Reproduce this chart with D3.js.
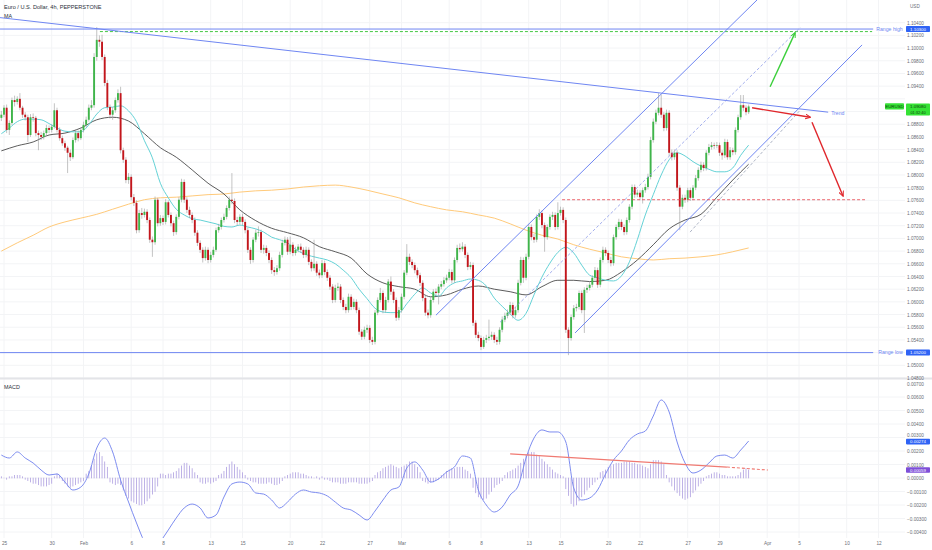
<!DOCTYPE html>
<html>
<head>
<meta charset="utf-8">
<script src="https://cdn.jsdelivr.net/npm/d3@7"></script>
<style>
  body { margin: 0; background: #fff; }
  svg { display: block; }
  text { font-family: "Liberation Sans", Arial, sans-serif; }
</style>
</head>
<body>
<div id="chart"></div>
<script>
// ---- data: EURUSD 4h candles, one per bar (bar 0 = last bar of Jan 24) ----
const firstOpen = 1.0890;
const closes = [
1.0895,1.0906,1.0871,1.0882,1.0918,1.0915,1.0920,1.0906,1.0895,1.0891,
1.0863,1.0891,1.0890,1.0866,1.0863,1.0860,1.0866,1.0874,1.0871,1.0876,
1.0902,1.0871,1.0858,1.0850,1.0843,1.0835,1.0828,1.0855,1.0866,1.0858,
1.0871,1.0879,1.0887,1.0906,1.0910,1.0986,1.1013,1.1010,1.0986,1.0945,
1.0907,1.0895,1.0902,1.0918,1.0929,1.0839,1.0824,1.0792,1.0797,1.0765,
1.0756,1.0713,1.0740,1.0737,1.0742,1.0729,1.0698,1.0694,1.0761,1.0724,
1.0732,1.0726,1.0757,1.0737,1.0724,1.0710,1.0734,1.0761,1.0789,1.0761,
1.0745,1.0737,1.0729,1.0709,1.0693,1.0682,1.0669,1.0682,1.0666,1.0674,
1.0682,1.0713,1.0718,1.0729,1.0734,1.0748,1.0761,1.0759,1.0729,1.0726,
1.0734,1.0726,1.0713,1.0682,1.0666,1.0698,1.0709,1.0710,1.0682,1.0685,
1.0677,1.0666,1.0650,1.0647,1.0653,1.0674,1.0693,1.0698,1.0679,1.0690,
1.0677,1.0682,1.0687,1.0682,1.0674,1.0682,1.0663,1.0653,1.0660,1.0646,
1.0642,1.0661,1.0647,1.0638,1.0624,1.0603,1.0622,1.0624,1.0603,1.0592,
1.0587,1.0608,1.0592,1.0600,1.0587,1.0553,1.0545,1.0556,1.0559,1.0540,
1.0537,1.0583,1.0603,1.0614,1.0587,1.0603,1.0632,1.0616,1.0603,1.0575,
1.0587,1.0608,1.0646,1.0671,1.0663,1.0658,1.0650,1.0642,1.0630,1.0606,
1.0583,1.0579,1.0603,1.0616,1.0614,1.0624,1.0628,1.0634,1.0638,1.0647,
1.0634,1.0666,1.0685,1.0683,1.0687,1.0674,1.0655,1.0658,1.0567,1.0548,
1.0543,1.0529,1.0540,1.0543,1.0545,1.0548,1.0540,1.0537,1.0556,1.0572,
1.0578,1.0583,1.0595,1.0579,1.0587,1.0630,1.0666,1.0638,1.0671,1.0718,
1.0702,1.0698,1.0734,1.0740,1.0721,1.0702,1.0718,1.0734,1.0737,1.0718,
1.0740,1.0745,1.0729,1.0556,1.0543,1.0576,1.0590,1.0592,1.0614,1.0587,
1.0619,1.0622,1.0627,1.0638,1.0650,1.0627,1.0666,1.0682,1.0677,1.0666,
1.0661,1.0702,1.0718,1.0726,1.0718,1.0710,1.0729,1.0750,1.0781,1.0769,
1.0772,1.0765,1.0776,1.0781,1.0797,1.0855,1.0884,1.0898,1.0906,1.0895,
1.0874,1.0898,1.0835,1.0828,1.0835,1.0780,1.0750,1.0764,1.0761,1.0776,
1.0764,1.0780,1.0795,1.0808,1.0816,1.0811,1.0835,1.0844,1.0847,1.0846,
1.0847,1.0835,1.0831,1.0852,1.0828,1.0839,1.0836,1.0871,1.0891,1.0910,
1.0906,1.0899,1.0908];

const highs = [
1.0901,1.0910,1.0911,1.0886,1.0922,1.0925,1.0924,1.0929,1.0909,1.0899,
1.0895,1.0896,1.0897,1.0893,1.0870,1.0868,1.0870,1.0879,1.0878,1.0880,
1.0913,1.0906,1.0875,1.0862,1.0854,1.0846,1.0840,1.0859,1.0871,1.0870,
1.0875,1.0884,1.0892,1.0911,1.0918,1.0992,1.1033,1.1020,1.1021,1.0990,
1.0950,1.0911,1.0907,1.0922,1.0935,1.0939,1.0843,1.0828,1.0803,1.0801,
1.0770,1.0760,1.0745,1.0748,1.0747,1.0746,1.0733,1.0703,1.0766,1.0764,
1.0737,1.0736,1.0762,1.0760,1.0741,1.0728,1.0738,1.0765,1.0794,1.0793,
1.0765,1.0750,1.0741,1.0733,1.0713,1.0697,1.0686,1.0687,1.0686,1.0679,
1.0687,1.0717,1.0723,1.0733,1.0739,1.0752,1.0766,1.0803,1.0763,1.0734,
1.0738,1.0739,1.0730,1.0717,1.0686,1.0702,1.0714,1.0719,1.0714,1.0690,
1.0689,1.0681,1.0670,1.0655,1.0658,1.0679,1.0698,1.0703,1.0702,1.0703,
1.0694,1.0687,1.0691,1.0692,1.0686,1.0687,1.0686,1.0667,1.0698,1.0664,
1.0651,1.0666,1.0665,1.0651,1.0642,1.0628,1.0627,1.0630,1.0628,1.0607,
1.0597,1.0613,1.0612,1.0605,1.0604,1.0591,1.0557,1.0561,1.0564,1.0563,
1.0545,1.0587,1.0607,1.0622,1.0618,1.0608,1.0636,1.0640,1.0620,1.0607,
1.0592,1.0613,1.0650,1.0691,1.0676,1.0667,1.0662,1.0654,1.0646,1.0634,
1.0610,1.0588,1.0608,1.0620,1.0621,1.0628,1.0633,1.0639,1.0643,1.0652,
1.0651,1.0670,1.0690,1.0692,1.0694,1.0691,1.0678,1.0663,1.0662,1.0571,
1.0553,1.0547,1.0545,1.0548,1.0572,1.0553,1.0552,1.0545,1.0560,1.0577,
1.0583,1.0588,1.0600,1.0599,1.0592,1.0635,1.0671,1.0670,1.0676,1.0723,
1.0722,1.0707,1.0738,1.0746,1.0744,1.0725,1.0722,1.0738,1.0742,1.0741,
1.0757,1.0750,1.0749,1.0733,1.0560,1.0580,1.0595,1.0597,1.0618,1.0618,
1.0623,1.0627,1.0632,1.0642,1.0655,1.0654,1.0670,1.0687,1.0686,1.0681,
1.0671,1.0706,1.0722,1.0731,1.0730,1.0722,1.0733,1.0754,1.0785,1.0785,
1.0777,1.0776,1.0780,1.0786,1.0802,1.0860,1.0889,1.0903,1.0929,1.0927,
1.0899,1.0903,1.0902,1.0840,1.0840,1.0839,1.0784,1.0769,1.0769,1.0780,
1.0780,1.0784,1.0800,1.0812,1.0821,1.0820,1.0839,1.0849,1.0852,1.0851,
1.0852,1.0851,1.0839,1.0857,1.0856,1.0844,1.0843,1.0875,1.0895,1.0926,
1.0926,1.0910,1.0911];

const lows = [
1.0885,1.0891,1.0866,1.0863,1.0879,1.0908,1.0911,1.0902,1.0890,1.0886,
1.0852,1.0860,1.0884,1.0861,1.0839,1.0855,1.0856,1.0862,1.0866,1.0867,
1.0873,1.0867,1.0854,1.0846,1.0838,1.0803,1.0822,1.0825,1.0851,1.0853,
1.0855,1.0867,1.0875,1.0884,1.0902,1.0906,1.0980,1.1002,1.0981,1.0940,
1.0902,1.0889,1.0887,1.0898,1.0914,1.0834,1.0819,1.0787,1.0786,1.0760,
1.0751,1.0708,1.0709,1.0731,1.0733,1.0724,1.0693,1.0671,1.0690,1.0719,
1.0720,1.0721,1.0722,1.0733,1.0719,1.0704,1.0706,1.0730,1.0757,1.0756,
1.0740,1.0732,1.0724,1.0704,1.0688,1.0677,1.0662,1.0665,1.0661,1.0662,
1.0670,1.0679,1.0709,1.0714,1.0725,1.0730,1.0744,1.0754,1.0724,1.0720,
1.0722,1.0721,1.0708,1.0677,1.0660,1.0662,1.0694,1.0703,1.0677,1.0676,
1.0672,1.0661,1.0644,1.0641,1.0643,1.0649,1.0670,1.0689,1.0674,1.0675,
1.0672,1.0673,1.0678,1.0677,1.0669,1.0670,1.0658,1.0648,1.0649,1.0641,
1.0637,1.0638,1.0642,1.0633,1.0619,1.0598,1.0599,1.0617,1.0598,1.0587,
1.0582,1.0583,1.0587,1.0588,1.0582,1.0548,1.0540,1.0541,1.0551,1.0535,
1.0532,1.0533,1.0579,1.0599,1.0582,1.0583,1.0599,1.0611,1.0598,1.0570,
1.0571,1.0583,1.0604,1.0642,1.0658,1.0653,1.0645,1.0637,1.0625,1.0601,
1.0578,1.0574,1.0575,1.0599,1.0609,1.0596,1.0620,1.0624,1.0630,1.0634,
1.0629,1.0630,1.0662,1.0678,1.0679,1.0669,1.0650,1.0651,1.0562,1.0543,
1.0538,1.0524,1.0526,1.0535,1.0539,1.0540,1.0535,1.0532,1.0533,1.0552,
1.0568,1.0574,1.0579,1.0574,1.0575,1.0583,1.0626,1.0630,1.0634,1.0667,
1.0697,1.0693,1.0694,1.0729,1.0716,1.0679,1.0698,1.0714,1.0729,1.0713,
1.0714,1.0736,1.0724,1.0551,1.0516,1.0539,1.0572,1.0585,1.0588,1.0582,
1.0551,1.0614,1.0618,1.0623,1.0634,1.0622,1.0623,1.0662,1.0672,1.0661,
1.0656,1.0657,1.0698,1.0714,1.0713,1.0705,1.0706,1.0725,1.0746,1.0764,
1.0765,1.0760,1.0755,1.0772,1.0777,1.0793,1.0851,1.0880,1.0894,1.0890,
1.0869,1.0870,1.0830,1.0823,1.0824,1.0775,1.0713,1.0746,1.0756,1.0757,
1.0759,1.0760,1.0776,1.0791,1.0804,1.0806,1.0807,1.0831,1.0840,1.0841,
1.0842,1.0830,1.0824,1.0827,1.0824,1.0824,1.0831,1.0832,1.0867,1.0887,
1.0901,1.0894,1.0896];

// moving averages, read every few bars
const maFastStep = 3;
const maFast = [
1.0865,1.0874,1.0884,1.0888,1.0888,1.0887,1.0881,1.0874,1.0869,1.0868,
1.0868,1.0879,1.0896,1.0906,1.0907,1.0909,1.0901,1.0884,1.0854,1.0827,
1.0787,1.0764,1.0746,1.0737,1.0731,1.0729,1.0726,1.0723,1.0719,1.0718,
1.0721,1.0718,1.0715,1.0710,1.0702,1.0698,1.0693,1.0683,1.0676,1.0672,
1.0669,1.0666,1.0660,1.0650,1.0638,1.0620,1.0605,1.0590,1.0584,1.0583,
1.0583,1.0597,1.0612,1.0622,1.0614,1.0609,1.0622,1.0630,1.0633,1.0636,
1.0634,1.0625,1.0606,1.0593,1.0581,1.0571,1.0582,1.0611,1.0639,1.0661,
1.0678,1.0686,1.0677,1.0658,1.0642,1.0638,1.0634,1.0633,1.0641,1.0663,
1.0698,1.0737,1.0769,1.0800,1.0824,1.0835,1.0830,1.0821,1.0814,1.0809,
1.0805,1.0805,1.0811,1.0831,1.0847];
const maMidStep = 6;
const maMid = [
1.0838,1.0846,1.0852,1.0863,1.0866,1.0874,1.0887,1.0891,1.0885,1.0865,
1.0843,1.0828,1.0808,1.0787,1.0770,1.0745,1.0728,1.0716,1.0709,1.0701,
1.0687,1.0679,1.0669,1.0644,1.0630,1.0624,1.0620,1.0608,1.0611,1.0620,
1.0625,1.0620,1.0616,1.0611,1.0624,1.0634,1.0634,1.0632,1.0634,1.0647,
1.0666,1.0690,1.0715,1.0729,1.0738,1.0765,1.0792,1.0817];
const maSlowStep = 6;
const maSlow = [
1.0680,1.0693,1.0705,1.0718,1.0726,1.0732,1.0738,1.0746,1.0754,1.0761,
1.0764,1.0765,1.0767,1.0769,1.0770,1.0773,1.0775,1.0776,1.0778,1.0781,
1.0783,1.0784,1.0781,1.0776,1.0770,1.0764,1.0756,1.0750,1.0745,1.0742,
1.0737,1.0732,1.0723,1.0713,1.0705,1.0699,1.0690,1.0683,1.0677,1.0671,
1.0668,1.0666,1.0668,1.0669,1.0671,1.0674,1.0679,1.0685];

// MACD line (read every 3 bars) and histogram (every bar)
const macdStep = 3;
const macdLine = [
0.00170,0.00148,0.00193,0.00148,0.00111,0.00059,0.00022,0.00030,-0.00030,-0.00089,
-0.00067,0.00030,0.00222,0.00296,0.00193,-0.00015,-0.00178,-0.00333,-0.00474,-0.00570,
-0.00474,-0.00385,-0.00296,-0.00222,-0.00193,-0.00222,-0.00296,-0.00274,-0.00141,-0.00044,
-0.00030,-0.00044,-0.00111,-0.00119,-0.00163,-0.00222,-0.00178,-0.00119,-0.00089,-0.00104,
-0.00111,-0.00133,-0.00178,-0.00222,-0.00237,-0.00274,-0.00311,-0.00245,-0.00163,-0.00089,
-0.00067,0.00074,0.00119,0.00059,-0.00030,-0.00007,0.00044,0.00082,0.00163,0.00148,
-0.00089,-0.00200,-0.00252,-0.00215,-0.00126,-0.00059,0.00148,0.00296,0.00356,0.00341,
0.00341,0.00267,-0.00074,-0.00163,-0.00148,-0.00089,0.00030,0.00133,0.00200,0.00282,
0.00326,0.00348,0.00459,0.00578,0.00489,0.00267,0.00111,0.00037,0.00059,0.00111,
0.00163,0.00170,0.00148,0.00207,0.00274];
const macdHist = [
0.0001,0.0000,-0.0001,0.0001,0.0001,0.0002,0.0002,0.0002,0.0001,-0.0001,
-0.0002,-0.0003,-0.0004,-0.0004,-0.0005,-0.0006,-0.0006,-0.0006,-0.0005,-0.0004,
0.0001,0.0003,0.0002,-0.0002,-0.0004,-0.0006,-0.0007,-0.0006,-0.0005,-0.0004,
-0.0003,-0.0002,0.0003,0.0005,0.0009,0.0014,0.0018,0.0019,0.0016,0.0012,
0.0008,-0.0003,-0.0004,-0.0005,-0.0004,-0.0005,-0.0009,-0.0013,-0.0015,-0.0017,
-0.0018,-0.0019,-0.0020,-0.0020,-0.0019,-0.0017,-0.0015,-0.0012,-0.0010,-0.0006,
0.0003,0.0003,0.0002,0.0003,0.0003,0.0004,0.0005,0.0007,0.0009,0.0011,
0.0011,0.0009,0.0007,0.0004,0.0002,-0.0003,-0.0004,-0.0004,-0.0003,-0.0004,
-0.0003,-0.0002,0.0002,0.0003,0.0005,0.0008,0.0010,0.0012,0.0010,0.0008,
0.0006,0.0004,0.0002,-0.0001,-0.0002,-0.0003,-0.0003,-0.0004,-0.0004,-0.0004,
-0.0004,-0.0003,-0.0004,-0.0005,-0.0005,-0.0004,-0.0002,0.0001,0.0002,0.0003,
0.0004,0.0004,0.0004,0.0003,0.0003,0.0002,0.0001,0.0001,0.0000,0.0001,
-0.0001,0.0001,-0.0001,-0.0001,-0.0002,-0.0003,-0.0003,-0.0003,-0.0004,-0.0004,
-0.0004,-0.0003,-0.0003,-0.0003,-0.0003,-0.0004,-0.0004,-0.0004,-0.0004,-0.0003,
-0.0002,0.0002,0.0004,0.0005,0.0007,0.0008,0.0009,0.0010,0.0009,0.0008,
0.0007,0.0008,0.0009,0.0010,0.0012,0.0012,0.0010,0.0008,0.0004,-0.0002,
-0.0003,-0.0004,-0.0003,-0.0003,-0.0002,-0.0001,0.0002,0.0003,0.0005,0.0006,
0.0007,0.0007,0.0008,0.0008,0.0008,0.0006,0.0005,0.0003,-0.0007,-0.0011,
-0.0014,-0.0015,-0.0016,-0.0015,-0.0012,-0.0010,-0.0007,-0.0005,-0.0004,-0.0002,
0.0002,0.0004,0.0005,0.0006,0.0007,0.0009,0.0011,0.0014,0.0017,0.0019,
0.0019,0.0019,0.0017,0.0016,0.0014,0.0012,0.0010,0.0008,0.0006,0.0004,
0.0003,0.0002,0.0001,-0.0008,-0.0013,-0.0019,-0.0021,-0.0020,-0.0017,-0.0014,
-0.0012,-0.0009,-0.0007,-0.0005,-0.0003,-0.0001,0.0004,0.0005,0.0006,0.0008,
0.0009,0.0010,0.0011,0.0011,0.0011,0.0012,0.0012,0.0012,0.0011,0.0011,
0.0010,0.0010,0.0009,0.0008,0.0007,0.0010,0.0013,0.0013,0.0013,0.0012,
0.0010,0.0002,-0.0003,-0.0006,-0.0009,-0.0011,-0.0013,-0.0015,-0.0016,-0.0015,
-0.0014,-0.0011,-0.0009,-0.0006,-0.0004,-0.0002,0.0001,0.0002,0.0003,0.0004,
0.0004,0.0003,0.0002,0.0002,0.0001,0.0001,0.0001,0.0001,0.0002,0.0004,
0.0006,0.0007,0.0006];

// time axis labels (bar index of the first bar of each labelled day)
const xTickBars   = [1, 19, 31, 49, 61, 79, 91, 109, 121, 139, 151, 169, 181, 199, 211, 229, 241, 259, 271, 289, 301, 319, 331];
const xTickLabels = ["25","30","Feb","6","8","13","15","20","22","27","Mar","6","8","13","15","20","22","27","29","Apr","5","10","12"];
const priceTicks = [1.048,1.050,1.052,1.054,1.056,1.058,1.060,1.062,1.064,1.066,1.068,1.070,1.072,1.074,
                    1.076,1.078,1.080,1.082,1.084,1.086,1.088,1.090,1.092,1.094,1.096,1.098,1.100,1.102,1.104];
const macdTicks = [-0.004,-0.003,-0.002,-0.001,0,0.001,0.002,0.003,0.004,0.005,0.006,0.007];

// drawings, in [bar, price] terms
const rangeHigh = 1.1030, rangeLow = 1.0520;
const rangeSpan = [-0.5, 329];
const peakDash = {price: 1.1026, from: 37.2, to: 328.6};
const supportDash = {price: 1.0761, from: 211.6, to: 325.9};
const trendLine = [[-0.5, 1.1048], [312, 1.0899]];
const channelUpper = [[164, 1.0579], [285.2, 1.1076]];
const channelMid = [[188.2, 1.0568], [301.4, 1.1032]];
const channelLower = [[216.5, 1.0551], [324.8, 1.1005]];
const innerDash = [[259.9, 1.0710], [301.4, 1.0902]];
const arrowFlat = [[283.3, 1.0906], [305.2, 1.0891]];
const arrowDown = [[305.9, 1.0883], [317.6, 1.0767]];
const arrowUp = [[290.1, 1.0939], [299.5, 1.1024]];
const macdTrend = [[192, 0.00178], [273.8, 0.00081]];
const macdTrendExt = [[273.8, 0.00081], [289.3, 0.00059]];
const lastPrice = 1.0908, lastMacd = 0.00274, lastHist = 0.00059;

// ---- chart ----
const W = 932, H = 550;
const plotRight = 905;
const svg = d3.select("#chart").append("svg").attr("width", W).attr("height", H);

const x = d3.scaleLinear().domain([0, 340]).range([1.35, 1.35 + 2.65 * 340]);
const y = d3.scaleLinear().domain([1.048, 1.104]).range([378, 22.7]);
const ym = d3.scaleLinear().domain([-0.004, 0.006]).range([532, 397]);

const defs = svg.append("defs");
defs.append("clipPath").attr("id", "clipPrice").append("rect")
    .attr("x", 0).attr("y", 0).attr("width", plotRight).attr("height", 377);
defs.append("clipPath").attr("id", "clipMacd").append("rect")
    .attr("x", 0).attr("y", 380).attr("width", plotRight).attr("height", 158);

function marker(id, color) {
    defs.append("marker")
        .attr("id", id)
        .attr("viewBox", "0 -5 10 10")
        .attr("refX", 8).attr("refY", 0)
        .attr("orient", "auto")
        .attr("markerWidth", 6).attr("markerHeight", 6)
        .attr("markerUnits", "userSpaceOnUse")
        .append("path")
        .attr("d", "M0,-4L9,0L0,4")
        .attr("fill", "none")
        .attr("stroke", color)
        .attr("stroke-width", 1.6);
}
marker("arrRed", "#e0262b");
marker("arrGreen", "#3bcf3b");

// grid
const grid = svg.append("g").attr("stroke", "#f3f4f6").attr("stroke-width", 1);
grid.selectAll(".vg").data(xTickBars).enter().append("line")
    .attr("x1", d => x(d)).attr("x2", d => x(d)).attr("y1", 0).attr("y2", 538);
grid.selectAll(".hg").data(priceTicks).enter().append("line")
    .attr("x1", 0).attr("x2", plotRight).attr("y1", d => y(d)).attr("y2", d => y(d));
grid.selectAll(".mg").data(macdTicks.filter(d => d < 0.007)).enter().append("line")
    .attr("x1", 0).attr("x2", plotRight).attr("y1", d => ym(d)).attr("y2", d => ym(d));

// pane separator
svg.append("line").attr("x1", 0).attr("x2", W).attr("y1", 378.5).attr("y2", 378.5)
    .attr("stroke", "#e3e4e8").attr("stroke-width", 2);

const price = svg.append("g").attr("clip-path", "url(#clipPrice)");

// moving averages
function steppedLine(values, step, scale) {
    return d3.line().x((d, k) => x(k * step)).y(d => scale(d)).curve(d3.curveMonotoneX)(values);
}
price.append("path").attr("d", steppedLine(maSlow, maSlowStep, y))
    .attr("fill", "none").attr("stroke", "#ffca7a").attr("stroke-width", 1);
price.append("path").attr("d", steppedLine(maMid, maMidStep, y))
    .attr("fill", "none").attr("stroke", "#4a4a4a").attr("stroke-width", 0.9);
price.append("path").attr("d", steppedLine(maFast, maFastStep, y))
    .attr("fill", "none").attr("stroke", "#64d2d6").attr("stroke-width", 1);

// candles
const bars = closes.map((c, i) => ({i, o: i ? closes[i - 1] : firstOpen, h: highs[i], l: lows[i], c}));
price.selectAll(".wick").data(bars).enter().append("line")
    .attr("x1", d => x(d.i)).attr("x2", d => x(d.i))
    .attr("y1", d => y(d.h)).attr("y2", d => y(d.l))
    .attr("stroke", "#9a9a9a").attr("stroke-width", 0.6);
price.selectAll(".body").data(bars).enter().append("rect")
    .attr("x", d => x(d.i) - 0.95)
    .attr("width", 1.9)
    .attr("y", d => y(Math.max(d.o, d.c)))
    .attr("height", d => Math.max(0.7, Math.abs(y(d.o) - y(d.c))))
    .attr("fill", d => d.c >= d.o ? "#3fb54a" : "#c3161c");

// drawings
function seg(g, pts, color, width, dash, mk) {
    const p = g.append("line")
        .attr("x1", x(pts[0][0])).attr("y1", y(pts[0][1]))
        .attr("x2", x(pts[1][0])).attr("y2", y(pts[1][1]))
        .attr("stroke", color).attr("stroke-width", width);
    if (dash) p.attr("stroke-dasharray", dash);
    if (mk) p.attr("marker-end", "url(#" + mk + ")");
    return p;
}
const blue = "#6f86f2";
seg(price, [[rangeSpan[0], rangeHigh], [rangeSpan[1], rangeHigh]], blue, 1);
seg(price, [[rangeSpan[0], rangeLow], [rangeSpan[1], rangeLow]], blue, 1);
seg(price, [[peakDash.from, peakDash.price], [peakDash.to, peakDash.price]], "#45c845", 1, "3,2");
seg(price, trendLine, blue, 1);
seg(price, channelUpper, blue, 1);
seg(price, channelMid, "#8d9be8", 0.8, "3,2");
seg(price, channelLower, blue, 1);
seg(price, innerDash, "#9aa3b8", 0.8, "3,2");
seg(price, [[supportDash.from, supportDash.price], [supportDash.to, supportDash.price]], "#e8434a", 0.8, "3,2");
seg(price, arrowFlat, "#e0262b", 1.4, null, "arrRed");
seg(price, arrowDown, "#e0262b", 1.4, null, "arrRed");
seg(price, arrowUp, "#3bcf3b", 1.4, null, "arrGreen");

// drawing labels
svg.append("text").attr("x", x(rangeSpan[1]) + 3).attr("y", y(rangeHigh) + 1.8)
    .attr("font-size", 5.2).attr("fill", blue).text("Range high");
svg.append("text").attr("x", x(rangeSpan[1]) + 5).attr("y", y(rangeLow) + 1.8)
    .attr("font-size", 5.2).attr("fill", blue).text("Range low");
svg.append("text").attr("x", x(trendLine[1][0]) + 3).attr("y", y(trendLine[1][1]) + 2.5)
    .attr("font-size", 5.2).attr("fill", blue).text("Trend");

// MACD pane
const macd = svg.append("g").attr("clip-path", "url(#clipMacd)");
macd.selectAll(".hist").data(macdHist).enter().append("rect")
    .attr("x", (d, i) => x(i) - 0.4)
    .attr("width", 0.8)
    .attr("y", d => Math.min(ym(d), ym(0)) - 0.3)
    .attr("height", d => Math.abs(ym(d) - ym(0)) + 0.6)
    .attr("fill", "#ae9fe0");
macd.append("path").attr("d", steppedLine(macdLine, macdStep, ym))
    .attr("fill", "none").attr("stroke", "#7d8cf0").attr("stroke-width", 1);
macd.append("line")
    .attr("x1", x(macdTrend[0][0])).attr("y1", ym(macdTrend[0][1]))
    .attr("x2", x(macdTrend[1][0])).attr("y2", ym(macdTrend[1][1]))
    .attr("stroke", "#f07a72").attr("stroke-width", 1.2);
macd.append("line")
    .attr("x1", x(macdTrendExt[0][0])).attr("y1", ym(macdTrendExt[0][1]))
    .attr("x2", x(macdTrendExt[1][0])).attr("y2", ym(macdTrendExt[1][1]))
    .attr("stroke", "#f07a72").attr("stroke-width", 1.1).attr("stroke-dasharray", "3,2");

// axes
const fmt5 = d3.format(".5f");
// the price tag is two rows tall, so it hides the neighbouring scale label
const hidden = [[rangeHigh, 4.5], [rangeLow, 4.5], [lastPrice, 8]];
const pAxis = svg.append("g").attr("transform", `translate(${plotRight},0)`)
    .call(d3.axisRight(y)
        .tickValues(priceTicks.filter(t => hidden.every(([v, r]) => Math.abs(y(t) - y(v)) > r)))
        .tickFormat(fmt5).tickSize(0).tickPadding(2));
// the 0.003 label sits just above the MACD tag; nudge it up so both stay readable
const mAxis = svg.append("g").attr("transform", `translate(${plotRight},0)`)
    .call(d3.axisRight(ym).tickValues(macdTicks).tickFormat(fmt5).tickSize(0).tickPadding(2));
mAxis.selectAll(".tick").filter(d => Math.abs(ym(d) - ym(lastMacd)) < 6)
    .select("text").attr("dy", "-0.25em");
const xAxis = svg.append("g").attr("transform", "translate(0,539)")
    .call(d3.axisBottom(x).tickValues(xTickBars).tickFormat((d, k) => xTickLabels[k]).tickSize(0).tickPadding(3));
[pAxis, mAxis, xAxis].forEach(a => {
    a.select(".domain").remove();
    a.selectAll("text").attr("font-size", 4.7).attr("fill", "#6b6e76")
        .style("font-family", '"Liberation Sans", Arial, sans-serif');
});

// value tags on the right scale
function tag(xl, yc, w, h, fill, lines, color, gap) {
    svg.append("rect").attr("x", xl).attr("y", yc - h / 2).attr("width", w).attr("height", h)
        .attr("rx", 0.8).attr("fill", fill);
    const step = gap || 5;
    const top = yc - ((lines.length - 1) * step) / 2;
    lines.forEach((t, k) => {
        svg.append("text").attr("x", xl + w / 2).attr("y", top + k * step)
            .attr("dy", "0.34em")
            .attr("text-anchor", "middle").attr("font-size", k ? 3.9 : 4.4)
            .attr("fill", color || "#fff").text(t);
    });
}
tag(906, y(rangeHigh), 24, 6, "#2f63f5", [fmt5(rangeHigh)]);
tag(906, y(rangeLow), 24, 6, "#2f63f5", [fmt5(rangeLow)]);
tag(885, y(lastPrice), 19, 6.2, "#35e235", ["EURUSD"], "#0b3d0b");
tag(906, y(lastPrice) + 3, 24, 12, "#35e235", [fmt5(lastPrice), "01:32:40"], "#0b3d0b", 6);
tag(906, ym(lastMacd) + 0.6, 24, 5.6, "#2f63f5", [fmt5(lastMacd)]);
tag(906, ym(lastHist), 24, 5.6, "#7e4fd8", [fmt5(lastHist)]);

// titles
svg.append("text").attr("x", 4).attr("y", 9).attr("font-size", 5.6).attr("fill", "#2a2e39")
    .text("Euro / U.S. Dollar, 4h, PEPPERSTONE");
svg.append("text").attr("x", 4).attr("y", 17.5).attr("font-size", 5.4).attr("fill", "#2a2e39").text("MA");
svg.append("text").attr("x", 4).attr("y", 389).attr("font-size", 5.4).attr("fill", "#2a2e39").text("MACD");
svg.append("text").attr("x", 910).attr("y", 8).attr("font-size", 4.6).attr("fill", "#6b6e76").text("USD");
</script>
</body>
</html>
